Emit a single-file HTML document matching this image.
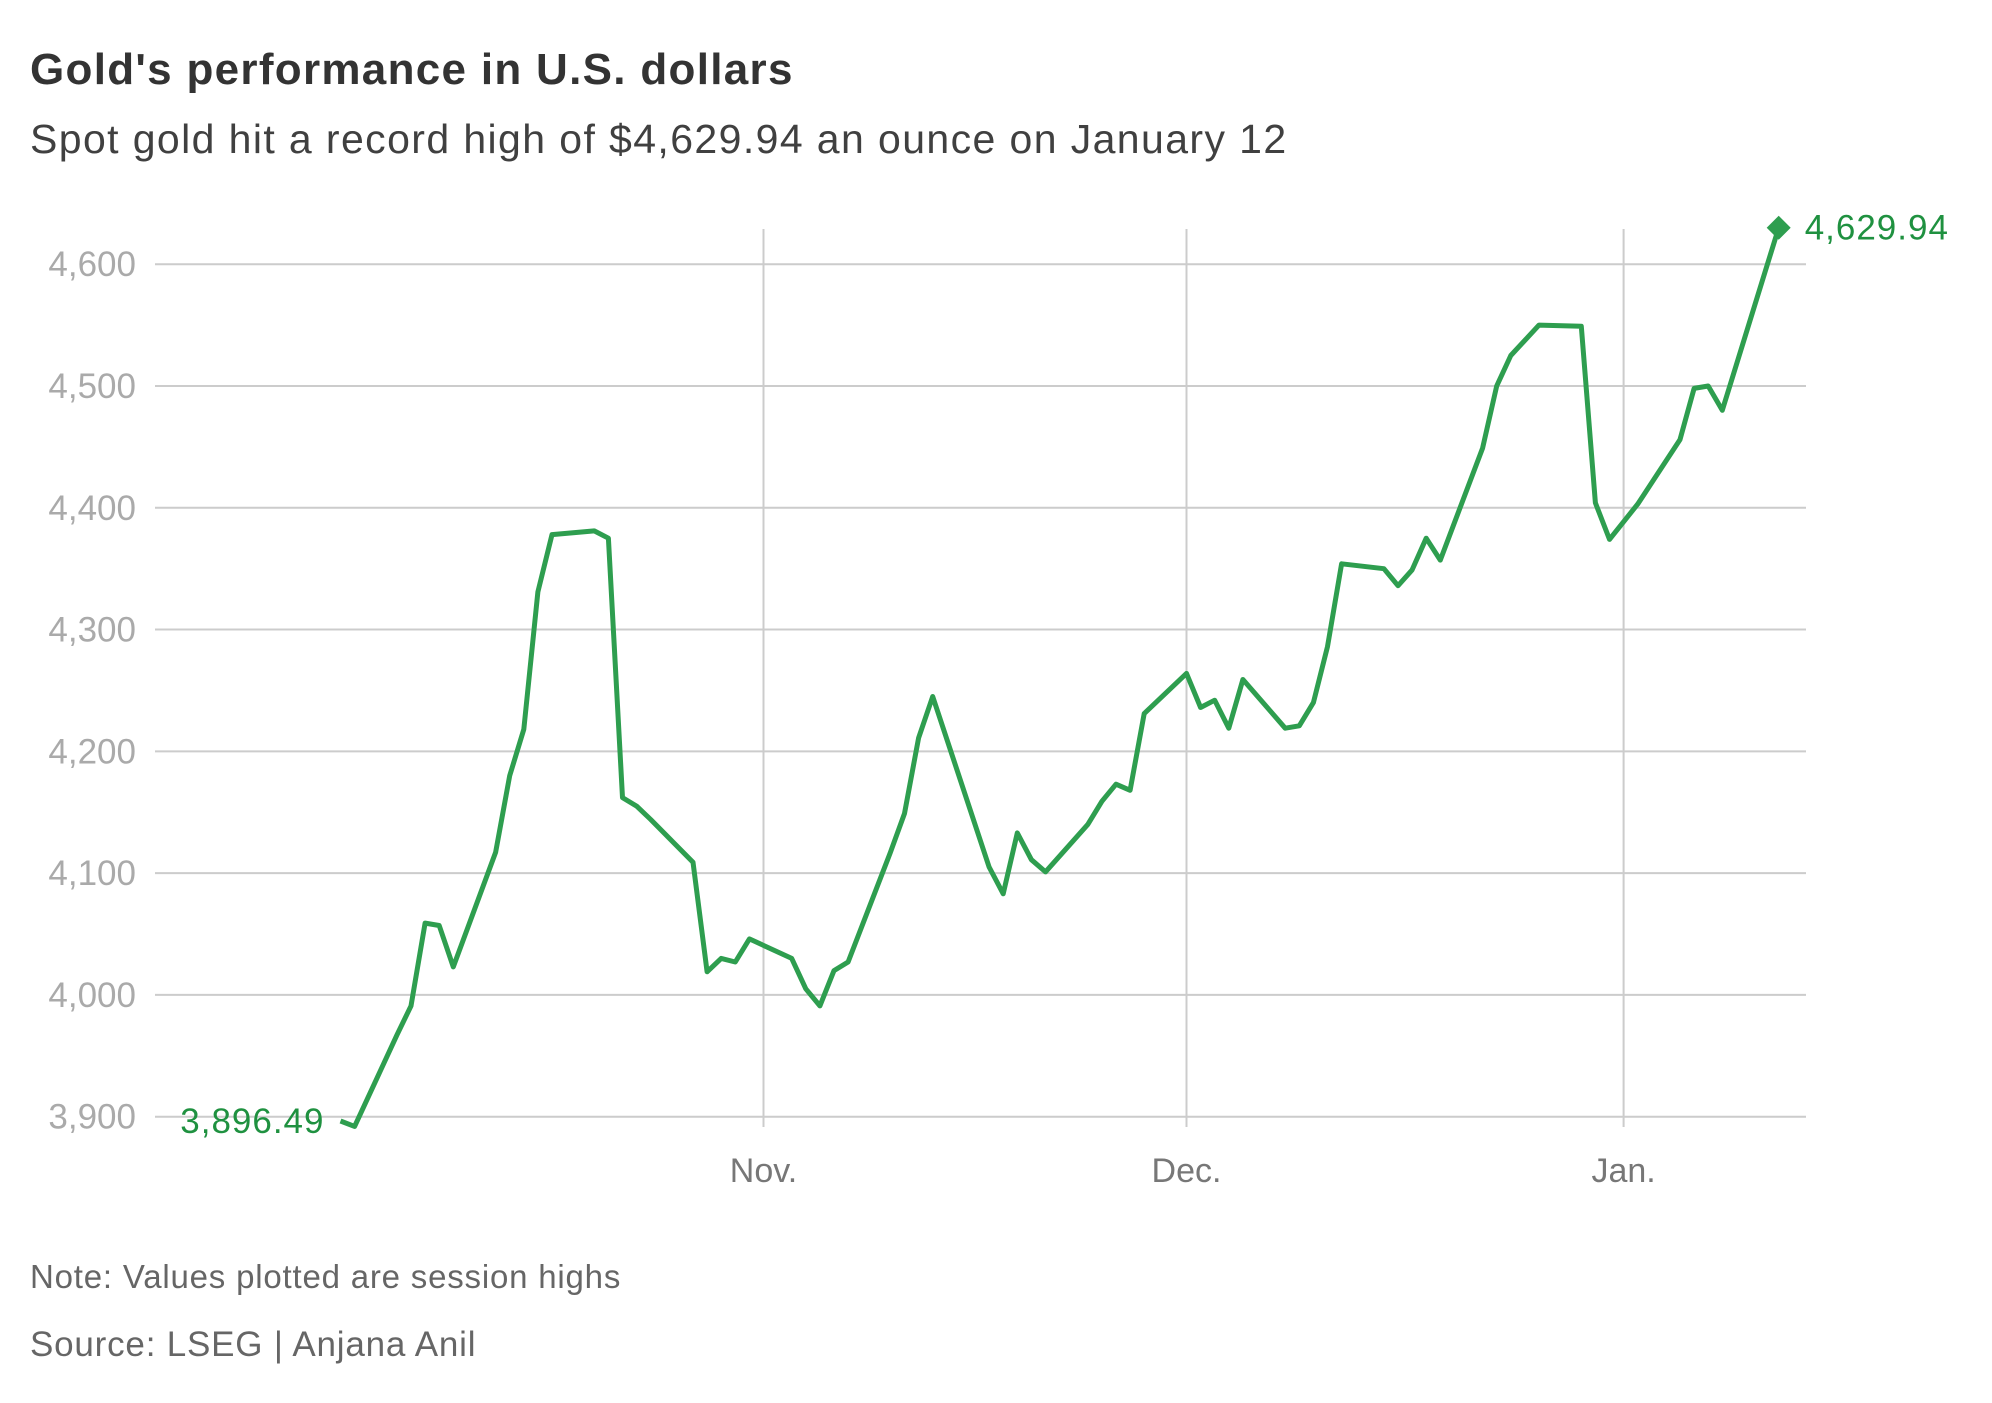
<!DOCTYPE html>
<html><head><meta charset="utf-8"><style>
html,body{margin:0;padding:0;background:#fff;}
body{width:1992px;height:1398px;overflow:hidden;font-family:"Liberation Sans",sans-serif;}
</style></head><body>
<svg id="chart" width="1992" height="1398" xmlns="http://www.w3.org/2000/svg">
<text x="30" y="84" font-size="44" font-weight="bold" fill="#333" letter-spacing="1.3">Gold's performance in U.S. dollars</text>
<text x="30" y="153" font-size="41" fill="#404040" letter-spacing="1.4">Spot gold hit a record high of $4,629.94 an ounce on January 12</text>
<g id="grid"></g>
<g id="yticks"></g>
<g id="xticks"></g>
<g id="series"></g>
<text x="30" y="1288" font-size="33" fill="#666" letter-spacing="0.8">Note: Values plotted are session highs</text>
<text x="30" y="1356" font-size="35" fill="#666" letter-spacing="0.8">Source: LSEG | Anjana Anil</text>
</svg>
<script>
const dates=["2025-10-02","2025-10-03","2025-10-06","2025-10-07","2025-10-08","2025-10-09","2025-10-10","2025-10-13","2025-10-14","2025-10-15","2025-10-16","2025-10-17","2025-10-20","2025-10-21","2025-10-22","2025-10-23","2025-10-24","2025-10-27","2025-10-28","2025-10-29","2025-10-30","2025-10-31","2025-11-03","2025-11-04","2025-11-05","2025-11-06","2025-11-07","2025-11-10","2025-11-11","2025-11-12","2025-11-13","2025-11-17","2025-11-18","2025-11-19","2025-11-20","2025-11-21","2025-11-24","2025-11-25","2025-11-26","2025-11-27","2025-11-28","2025-12-01","2025-12-02","2025-12-03","2025-12-04","2025-12-05","2025-12-08","2025-12-09","2025-12-10","2025-12-11","2025-12-12","2025-12-15","2025-12-16","2025-12-17","2025-12-18","2025-12-19","2025-12-22","2025-12-23","2025-12-24","2025-12-26","2025-12-29","2025-12-30","2025-12-31","2026-01-02","2026-01-05","2026-01-06","2026-01-07","2026-01-08","2026-01-12"];
const values=[3896.49,3892,3967,3991,4059,4057,4023,4117,4180,4218,4331,4378,4381,4375,4162,4155,4144,4109,4019,4030,4027,4046,4030,4005,3991,4020,4027,4117,4149,4211,4245,4105,4083,4133,4111,4101,4140,4159,4173,4168,4231,4264,4236,4242,4219,4259,4219,4221,4240,4286,4354,4350,4336,4349,4375,4357,4449,4500,4525,4550,4549,4404,4374,4403,4456,4498,4500,4480,4629.94];
const yTicks=[3900,4000,4100,4200,4300,4400,4500,4600];
const yTickLabels=["3,900","4,000","4,100","4,200","4,300","4,400","4,500","4,600"];
const monthDates=["2025-11-01","2025-12-01","2026-01-01"];
const monthLabels=["Nov.","Dec.","Jan."];
const firstLabel="3,896.49", lastLabel="4,629.94";

const NS="http://www.w3.org/2000/svg";
const day0=Date.parse("2025-11-01");
const pxDay=(1623.6-763.5)/61;
function x(d){return 763.5+(Date.parse(d)-day0)/86400000*pxDay;}
function y(v){return 1116.7-(v-3900)*(852.5/700);}
function mk(tag,attrs,parent){const e=document.createElementNS(NS,tag);for(const k in attrs)e.setAttribute(k,attrs[k]);parent.appendChild(e);return e;}
const grid=document.getElementById('grid'),yt=document.getElementById('yticks'),xt=document.getElementById('xticks'),ser=document.getElementById('series');
yTicks.forEach((v,i)=>{
  const l=mk('line',{x1:155,x2:1806,y1:y(v),y2:y(v),stroke:'#cccccc','stroke-width':2},grid);
  
  
  const t=mk('text',{x:136,y:y(v)+12,'font-size':35,fill:'#aaaaaa','text-anchor':'end'},yt);
  t.textContent=yTickLabels[i];
  
  
});
monthDates.forEach((d,i)=>{
  const l=mk('line',{x1:x(d),x2:x(d),y1:229,y2:1127,stroke:'#cccccc','stroke-width':2},grid);
  
  
  const t=mk('text',{x:x(d),y:1182,'font-size':34,fill:'#777','text-anchor':'middle'},xt);
  t.textContent=monthLabels[i];
  
  
});
const pts=dates.map((d,i)=>x(d).toFixed(1)+','+y(values[i]).toFixed(1)).join(' ');
const pl=mk('polyline',{points:pts,fill:'none',stroke:'#2e9e4f','stroke-width':5,'stroke-linejoin':'round'},ser);


const n=dates.length-1,lx=x(dates[n]),ly=y(values[n]);
const dm=mk('polygon',{points:`${lx},${ly-12} ${lx+12},${ly} ${lx},${ly+12} ${lx-12},${ly}`,fill:'#2e9e4f'},ser);


const t1=mk('text',{x:lx+26,y:ly+12,'font-size':35,fill:'#1f9140','letter-spacing':1},ser);
t1.textContent=lastLabel;


const t0=mk('text',{x:x(dates[0])-16,y:y(values[0])+12,'font-size':35,fill:'#1f9140','text-anchor':'end','letter-spacing':1},ser);
t0.textContent=firstLabel;


</script>
</body></html>
